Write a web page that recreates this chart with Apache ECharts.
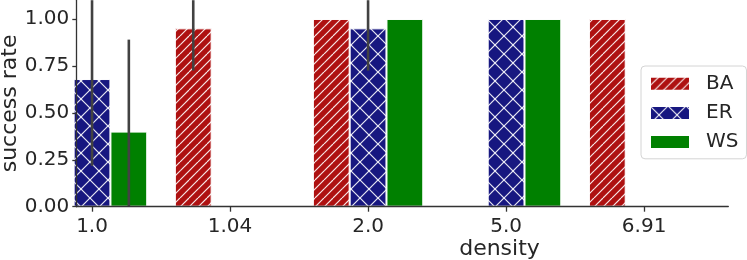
<!DOCTYPE html>
<html><head><meta charset="utf-8">
<script src="https://cdn.jsdelivr.net/npm/echarts@6/dist/echarts.min.js"></script>
<style>html,body{margin:0;padding:0;background:#fff}#c{width:747px;height:260px}</style>
</head><body><div id="c"></div>
<script>
// ---- data ----
const categories = ['1.0', '1.04', '2.0', '5.0', '6.91'];
const seriesNames = ['BA', 'ER', 'WS'];
const baRate = [null, 0.95, 1.00, null, 1.00];
const erRate = [0.68, null, 0.95, 1.00, null];
const wsRate = [0.40, null, 1.00, 1.00, null];
const baLow  = [null, 0.725, 1.00, null, 1.00];
const baHigh = [null, 1.175, 1.00, null, 1.00];
const erLow  = [0.218, null, 0.725, 1.00, null];
const erHigh = [1.142, null, 1.175, 1.00, null];
const wsLow  = [-0.09, null, 1.00, 1.00, null];
const wsHigh = [0.89, null, 1.00, 1.00, null];
const yTicks = [0, 0.25, 0.5, 0.75, 1.0];

// ---- style ----
const FONT = 'DejaVu Sans';
const TXT = '#262626';
const Y_MIN = 0, Y_MAX = 1.1;
const X_MIN = -0.114, X_MAX = 4.61;
const GROUP_W = 0.8;
const colors = {BA: '#ae1111', ER: '#171780', WS: '#008000'};

function hatch(base, size, fams) {
  const c = document.createElement('canvas');
  c.width = size; c.height = size;
  const g = c.getContext('2d');
  g.fillStyle = base; g.fillRect(0, 0, size, size);
  g.strokeStyle = 'rgba(255,255,255,0.9)';
  g.lineWidth = 1.2;
  fams.forEach(f => {
    for (let x0 = -size; x0 <= size; x0 += f.step) {
      g.beginPath();
      if (f.dir === '/') { g.moveTo(x0, size); g.lineTo(x0 + size, 0); }
      else { g.moveTo(x0, 0); g.lineTo(x0 + size, size); }
      g.stroke();
    }
  });
  return {image: c, repeat: 'repeat'};
}
const fills = {
  BA: hatch(colors.BA, 18, [{dir: '/', step: 9}]),
  ER: hatch(colors.ER, 18, [{dir: '/', step: 18}, {dir: '\\', step: 18}]),
  WS: colors.WS
};

const rates = {BA: baRate, ER: erRate, WS: wsRate};
const lows = {BA: baLow, ER: erLow, WS: wsLow};
const highs = {BA: baHigh, ER: erHigh, WS: wsHigh};

function barData(arr) {
  const out = [];
  arr.forEach((v, i) => { if (v !== null) out.push([i, v]); });
  return out;
}
function errData(name, off) {
  const out = [];
  lows[name].forEach((lo, i) => { if (lo !== null) out.push([i, lo, highs[name][i], off]); });
  return out;
}
function renderErr(params, api) {
  const x = api.value(0);
  const lo = Math.max(api.value(1), Y_MIN);
  const hi = Math.min(api.value(2), Y_MAX);
  const off = api.value(3);
  const bw = api.size([GROUP_W / 3, 0])[0];
  const p1 = api.coord([x, lo]);
  const p2 = api.coord([x, hi]);
  const cx = p1[0] + off * bw;
  const zero = Math.abs(p1[1] - p2[1]) < 0.5;
  return {
    type: 'line',
    shape: {x1: cx, y1: p1[1], x2: cx, y2: p2[1]},
    style: {stroke: '#424242', lineWidth: 2.6, lineCap: zero ? 'round' : 'butt'}
  };
}

const chart = echarts.init(document.getElementById('c'), null, {renderer: 'canvas'});
const series = [];
seriesNames.forEach(n => {
  series.push({
    name: n, type: 'bar', data: barData(rates[n]), clip: true,
    barWidth: 36.8, barGap: '0%',
    itemStyle: {color: fills[n], borderColor: '#ffffff', borderWidth: 1},
    emphasis: {disabled: true}, animation: false
  });
});
seriesNames.forEach((n, k) => {
  series.push({
    type: 'custom', name: 'err_' + n, data: errData(n, k - 1),
    renderItem: renderErr, z: 5, animation: false, silent: true
  });
});

chart.setOption({
  animation: false,
  backgroundColor: '#ffffff',
  textStyle: {fontFamily: FONT},
  grid: {left: 76.3, right: 18.7, top: 0.2, bottom: 53.3, containLabel: false, outerBoundsMode: 'none'},
  legend: {
    data: seriesNames, orient: 'vertical', left: 641, top: 66,
    icon: 'rect', itemWidth: 40, itemHeight: 14, itemGap: 9.2,
    padding: [7.7, 8, 6.7, 8],
    borderColor: '#d4d4d4', borderWidth: 1, borderRadius: 4,
    backgroundColor: 'rgba(255,255,255,0.8)',
    textStyle: {fontFamily: FONT, fontSize: 20, color: TXT, lineHeight: 20, padding: [0, 0, 0, 11]}
  },
  xAxis: {
    type: 'value', min: X_MIN, max: X_MAX, z: 10,
    axisLine: {show: true, onZero: false, lineStyle: {color: '#333', width: 1.3}},
    axisTick: {show: true, length: 5, customValues: [0, 1, 2, 3, 4], lineStyle: {color: '#333', width: 1.3}},
    axisLabel: {customValues: [0, 1, 2, 3, 4], formatter: v => categories[Math.round(v)],
      fontFamily: FONT, fontSize: 20, color: TXT, margin: 10},
    splitLine: {show: false}
  },
  yAxis: {
    type: 'value', min: Y_MIN, max: Y_MAX, z: 10,
    name: 'success rate', nameLocation: 'middle', nameGap: 55, nameMoveOverlap: false,
    nameTextStyle: {fontFamily: FONT, fontSize: 22, color: TXT},
    axisLine: {show: true, onZero: false, lineStyle: {color: '#333', width: 1.3}},
    axisTick: {show: true, length: 4, customValues: yTicks, lineStyle: {color: '#333', width: 1.3}},
    axisLabel: {customValues: yTicks, formatter: v => v.toFixed(2),
      fontFamily: FONT, fontSize: 20, color: TXT, margin: 7},
    splitLine: {show: false}
  },
  graphic: [{
    type: 'text', x: 499.5, y: 238, silent: true,
    style: {text: 'density', fontFamily: FONT, fontSize: 22, fill: TXT, align: 'center', verticalAlign: 'top'}
  }],
  series: series
});
</script>
</body></html>
